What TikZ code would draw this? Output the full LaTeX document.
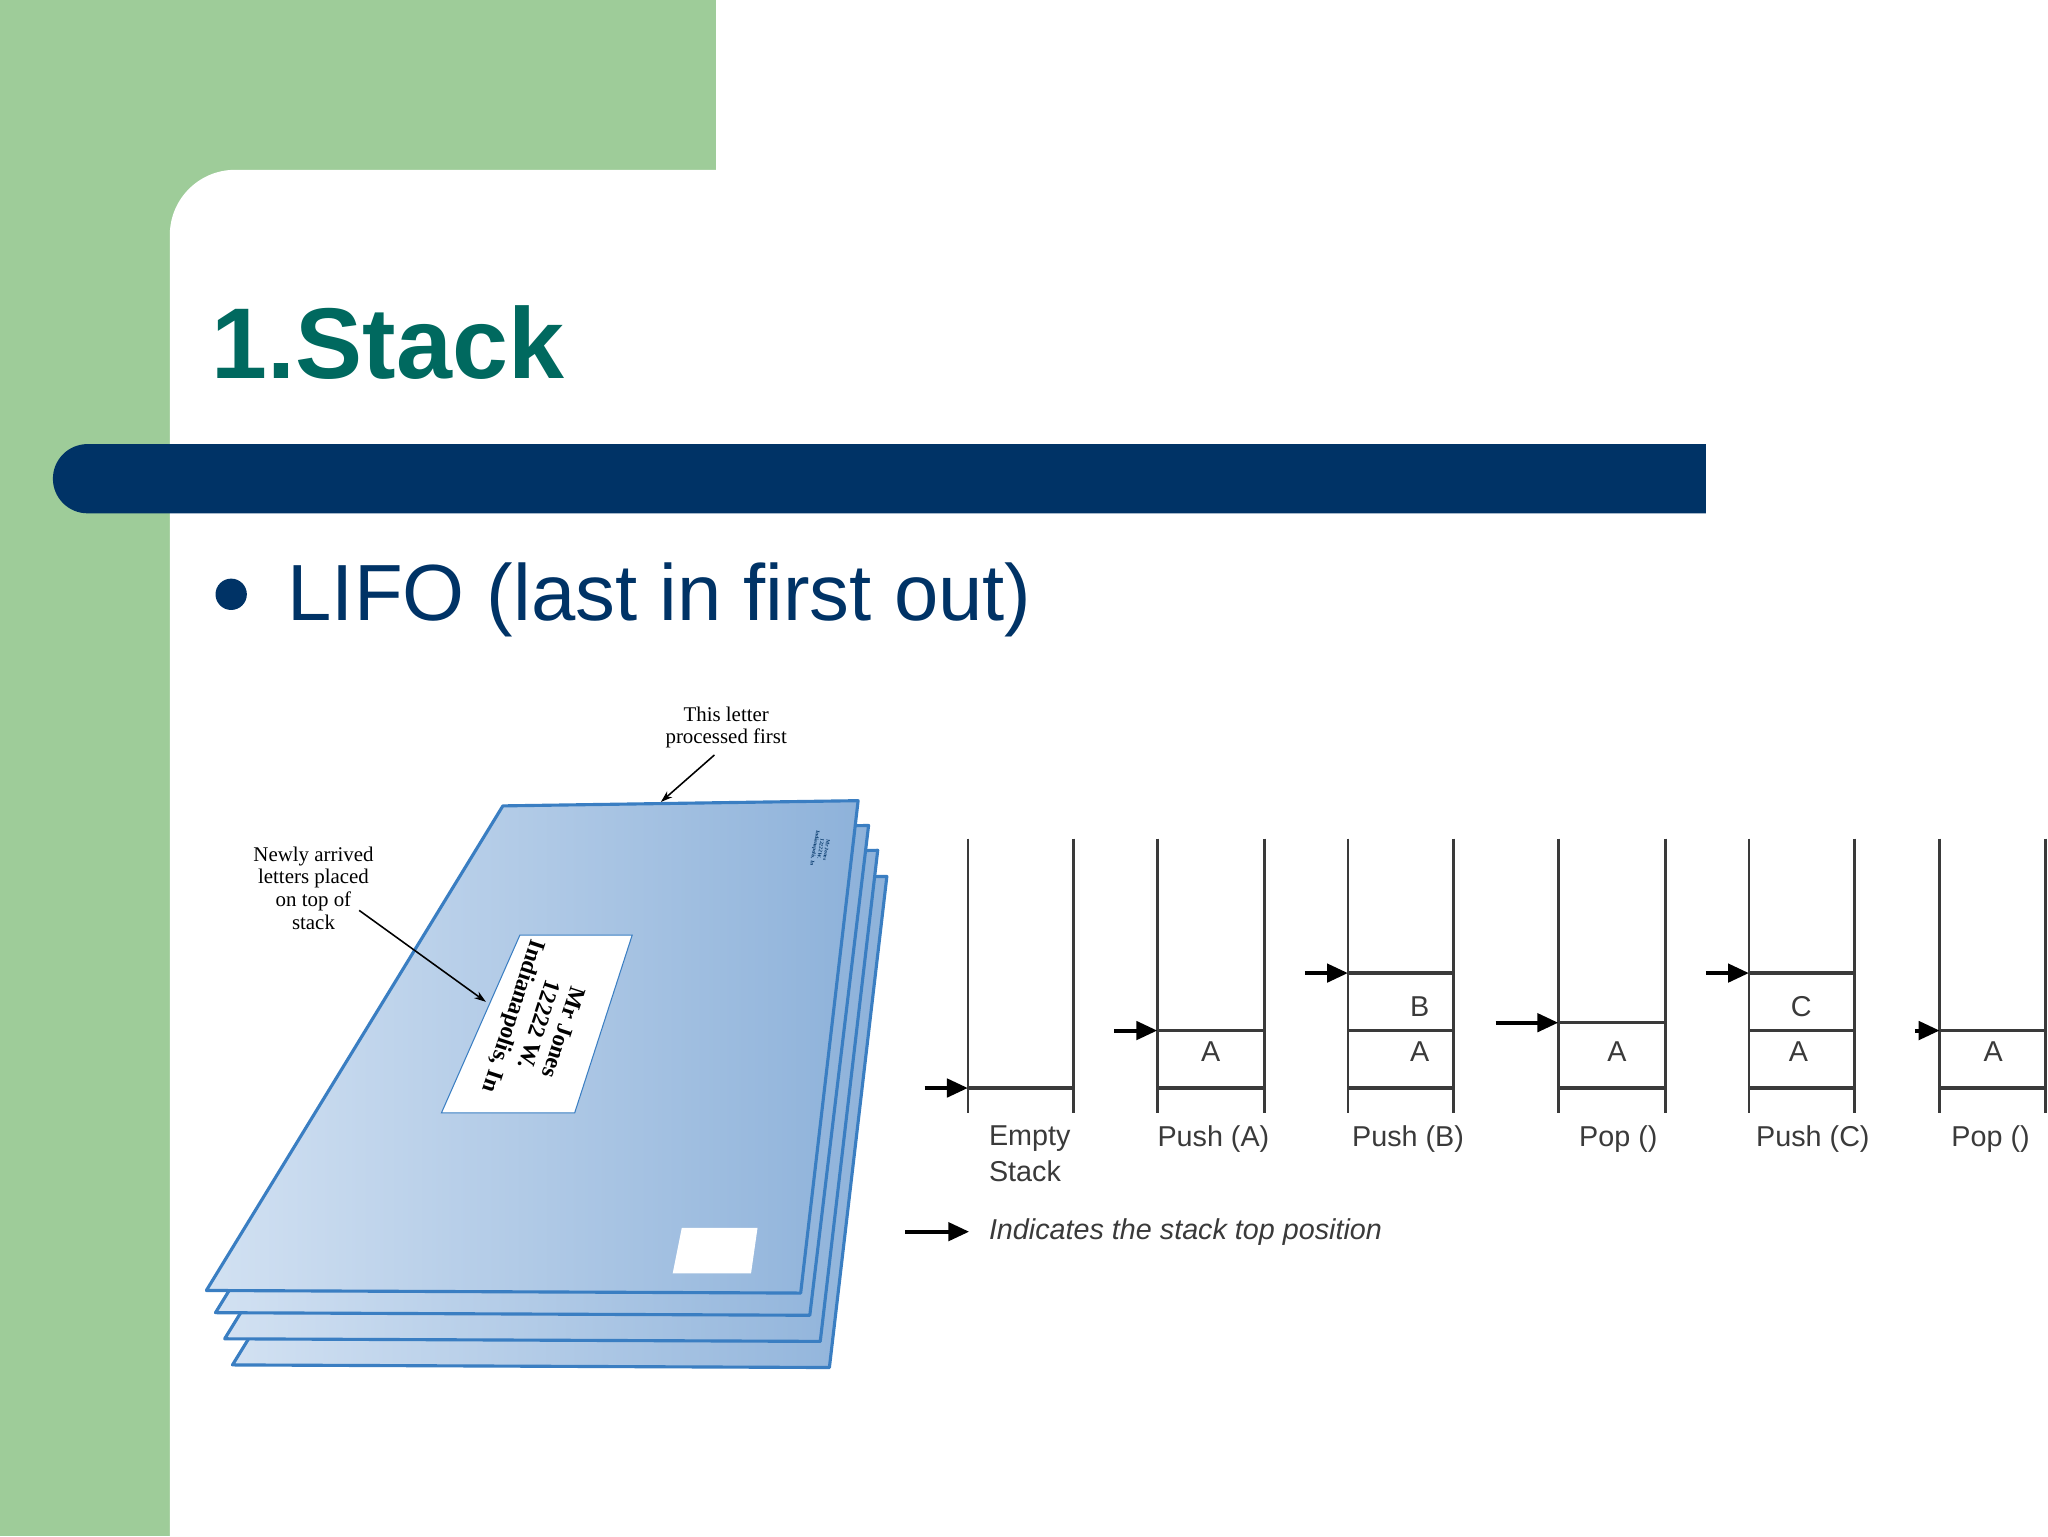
\documentclass[tikz,border=0pt]{standalone}
\usepackage{fontspec}
\setmainfont{Liberation Serif}
\setsansfont{Liberation Sans}
\usetikzlibrary{arrows.meta}
\definecolor{sgreen}{HTML}{9ECC99}
\definecolor{steal}{HTML}{00695F}
\definecolor{snavy}{HTML}{003366}
\definecolor{envL}{HTML}{D2E1F2}
\definecolor{envR}{HTML}{8EB2DA}
\definecolor{envE}{HTML}{3A7EC2}
\definecolor{sgray}{HTML}{3A3A3A}
\tikzset{
  env/.style={draw=envE,line width=2.4pt,left color=envL,right color=envR,line join=round},
  lab/.style={font=\fontsize{16}{17.5}\selectfont,align=center,inner sep=0pt},
  slab/.style={font=\sffamily\fontsize{22}{26}\selectfont,text=sgray,inner sep=0pt},
  wall/.style={line width=2pt,draw=sgray},
  lvl/.style={line width=2.6pt,draw=sgray},
  ptr/.style={line width=3pt,draw=black,-{Triangle[length=16pt,width=14pt]}},
  thin/.style={line width=1.2pt,-{Stealth[length=9pt,width=6pt]}}
}
\begin{document}
\begin{tikzpicture}[x=1pt,y=-1pt]
\useasboundingbox (0,0) rectangle (1568,1176);
\fill[white] (0,0) rectangle (1568,1176);
\fill[sgreen] (0,0) rectangle (548,180);
\fill[sgreen] (0,0) rectangle (130,1176);
\fill[white] (130,1176) -- (130,180) arc[start angle=180,end angle=270,radius=50] -- (548,130) -- (548,1176) -- cycle;
\fill[white] (548,130) rectangle (1568,1176);
\node[anchor=base west,font=\sffamily\bfseries\fontsize{77}{84}\selectfont,text=steal,inner sep=0pt] (title) at (162,290) {1.Stack};
\fill[snavy] (1306,340) -- (67,340) arc[start angle=270,end angle=90,radius=26.5] -- (1306,393) -- cycle;
\fill[snavy] (177,455) circle (12);
\node[anchor=base west,font=\sffamily\fontsize{61}{66}\selectfont,text=snavy,inner sep=0pt] (lifo) at (220,475) {LIFO (last in first out)};
% envelopes
\path[env] (178,1045) -- (406,675) -- (679,671) -- (635,1047) -- cycle;
\path[env] (172,1025) -- (400,655) -- (672,651) -- (628,1027) -- cycle;
\path[env] (165,1005) -- (392,636) -- (665,632) -- (620,1007) -- cycle;
\path[env] (158,988) -- (385,617) -- (657,613) -- (613,990) -- cycle;
\fill[white,draw=envE,line width=0.8pt] (398,716) -- (484,716) -- (440,852) -- (338,852) -- cycle;
\node[rotate=-108,font=\bfseries\fontsize{18}{20}\selectfont,align=center,inner sep=0pt] (addr) at (411,784) {Mr Jones\\12222 W.\\Indianapolis, In};
\node[rotate=-100,font=\bfseries\fontsize{4}{4.5}\selectfont,align=center,inner sep=0pt,text=snavy] (small) at (628,650) {Mr Jones\\12222 W.\\Indianapolis, In};
\fill[white] (522,940) -- (580,940) -- (575,975) -- (515,975) -- cycle;
\node[lab] (first) at (556,557) {This letter\\processed first};
\coordinate (topedge) at (506,614);
\draw[thin] (547,578) -- (topedge);
\node[lab] (newly) at (240,680) {Newly arrived\\letters placed\\on top of\\stack};
\coordinate (label) at (372,767);
\draw[thin] (275,697) -- (label);
% stacks
\foreach \l/\r in {741/822,886/968,1032/1113,1193/1275,1339/1420,1485/1566}{
  \draw[wall] (\l,642) -- (\l,852);
  \draw[wall] (\r,642) -- (\r,852);
  \draw[lvl] (\l,833) -- (\r,833);
}
\foreach \l/\r in {886/968,1032/1113,1339/1420,1485/1566}{\draw[lvl] (\l,789) -- (\r,789);}
\draw[lvl] (1032,745) -- (1113,745);
\draw[lvl] (1339,745) -- (1420,745);
\draw[lvl] (1193,783) -- (1275,783);
\coordinate (t1) at (741,833); \draw[ptr] (708,833) -- (t1);
\coordinate (t2) at (886,789); \draw[ptr] (853,789) -- (t2);
\coordinate (t3) at (1032,745); \draw[ptr] (999,745) -- (t3);
\coordinate (t4) at (1193,783); \draw[ptr] (1145,783) -- (t4);
\coordinate (t5) at (1339,745); \draw[ptr] (1306,745) -- (t5);
\coordinate (t6) at (1485,789); \draw[ptr] (1466,789) -- (t6);
\node[slab] (a1) at (927,805) {A};
\node[slab] (a2) at (1087,805) {A};
\node[slab] (b2) at (1087,771) {B};
\node[slab] (a3) at (1238,805) {A};
\node[slab] (a4) at (1377,805) {A};
\node[slab] (c4) at (1379,771) {C};
\node[slab] (a5) at (1526,805) {A};
\node[slab,anchor=north west,align=left,font=\sffamily\fontsize{22}{27}\selectfont] (e) at (757,862) {Empty\\Stack};
\node[slab,anchor=north] (p1) at (929,862) {Push (A)};
\node[slab,anchor=north] (p2) at (1078,862) {Push (B)};
\node[slab,anchor=north] (p3) at (1239,862) {Pop ()};
\node[slab,anchor=north] (p4) at (1388,862) {Push (C)};
\node[slab,anchor=north] (p5) at (1524,862) {Pop ()};
\node[slab,anchor=west,font=\sffamily\itshape\fontsize{22}{26}\selectfont] (leg) at (757,943) {Indicates the stack top position};
\coordinate (legtip) at (742,943);
\draw[ptr] (693,943) -- (legtip);
\end{tikzpicture}
\end{document}
